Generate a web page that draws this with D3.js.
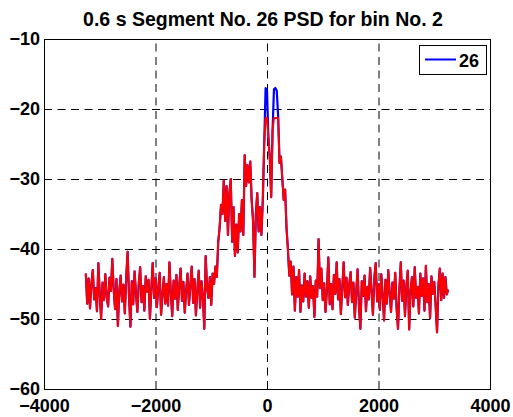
<!DOCTYPE html>
<html>
<head>
<meta charset="utf-8">
<script src="https://cdn.jsdelivr.net/npm/d3@7"></script>
<style>
  html, body { margin: 0; padding: 0; background: #ffffff; }
  svg { display: block; }
  text { font-family: "Liberation Sans", Arial, Helvetica, sans-serif; font-weight: bold; }
</style>
</head>
<body>
<svg id="chart" width="513" height="417"></svg>
<script>
// ---- data ----
const titleText = "0.6 s Segment No. 26 PSD for bin No. 2";
const legendLabel = "26";
const xTicks = [-4000, -2000, 0, 2000, 4000];
const yTicks = [-60, -50, -40, -30, -20, -10];
const xDomain = [-4000, 4000];
const yDomain = [-60, -10];
// frequency bins (Hz), 25 Hz spacing
const freqs = d3.range(-3250, 3251, 25);
// PSD values in dB (blue trace, series "26")
const psdBlue = [
  -43.5, -47.8, -44.2, -48.5, -45.0, -43.0, -47.2, -45.6, -48.9, -42.0,
  -46.5, -50.0, -44.8, -47.3, -43.6, -46.9, -48.2, -44.1, -46.0, -41.4,
  -45.8, -48.6, -44.3, -51.0, -46.2, -43.8, -47.5, -45.1, -49.2, -44.0,
  -40.4, -46.8, -51.1, -44.6, -47.9, -43.2, -46.4, -49.0, -44.9, -42.6,
  -47.6, -45.3, -48.8, -43.9, -46.1, -44.4, -50.0, -45.7, -42.0, -47.0,
  -44.2, -48.3, -45.5, -43.4, -49.4, -46.6, -44.0, -47.8, -45.0, -48.1,
  -41.9, -46.3, -49.6, -44.5, -47.1, -43.7, -48.7, -45.4, -42.8, -47.4,
  -44.7, -49.1, -46.0, -43.5, -48.0, -45.2, -42.5, -47.7, -44.3, -49.5,
  -45.9, -43.1, -48.4, -44.6, -46.8, -51.4, -41.0, -45.5, -47.0, -44.0,
  -48.0, -43.5, -45.0, -42.5, -44.0, -39.0, -37.0, -33.7, -35.0, -30.2,
  -36.0, -31.0, -38.0, -32.0, -30.0, -39.0, -34.0, -41.0, -36.5, -40.5,
  -35.0, -37.5, -33.0, -38.0, -26.6, -31.0, -28.0, -30.5, -27.5, -33.0,
  -36.0, -44.0, -35.0, -32.0, -37.5, -34.0, -38.0, -33.0, -25.0, -17.0,
  -17.3, -24.0, -27.0, -32.6, -23.0, -17.2, -17.0, -17.4, -21.0, -27.7,
  -26.8, -30.0, -33.0, -31.5, -37.0, -40.0, -43.8, -41.8, -46.5, -42.5,
  -48.8, -44.0, -46.8, -43.0, -49.0, -45.2, -47.5, -43.5, -46.8, -44.6,
  -48.4, -43.9, -47.0, -45.3, -49.7, -44.5, -46.8, -38.6, -45.6, -42.8,
  -47.3, -44.9, -49.0, -45.8, -41.2, -47.9, -45.0, -48.6, -43.7, -46.4,
  -41.9, -47.2, -44.3, -49.3, -45.6, -41.9, -46.9, -44.1, -48.0, -45.1,
  -43.3, -47.6, -44.8, -49.8, -46.2, -42.9, -48.3, -51.4, -44.6, -46.7,
  -43.8, -48.9, -45.4, -47.2, -42.7, -46.0, -49.4, -44.2, -42.0, -47.5,
  -45.0, -48.7, -43.6, -46.6, -50.2, -44.4, -47.8, -43.0, -46.3, -49.0,
  -44.8, -47.1, -43.4, -48.5, -51.4, -45.7, -41.9, -47.4, -44.5, -49.6,
  -45.3, -43.1, -51.5, -46.1, -44.0, -48.2, -42.6, -47.0, -45.4, -49.2,
  -43.5, -46.7, -44.2, -48.8, -42.4, -47.6, -45.0, -49.9, -43.9, -46.4,
  -44.7, -48.1, -51.9, -45.2, -42.8, -47.3, -43.5, -47.0, -44.0, -46.5, -45.8
];
// PSD values in dB (red trace, peaks limited)
const psdRed = [
  -43.5, -47.8, -44.2, -48.5, -45.0, -43.0, -47.2, -45.6, -48.9, -42.0,
  -46.5, -50.0, -44.8, -47.3, -43.6, -46.9, -48.2, -44.1, -46.0, -41.4,
  -45.8, -48.6, -44.3, -51.0, -46.2, -43.8, -47.5, -45.1, -49.2, -44.0,
  -40.4, -46.8, -51.1, -44.6, -47.9, -43.2, -46.4, -49.0, -44.9, -42.6,
  -47.6, -45.3, -48.8, -43.9, -46.1, -44.4, -50.0, -45.7, -42.0, -47.0,
  -44.2, -48.3, -45.5, -43.4, -49.4, -46.6, -44.0, -47.8, -45.0, -48.1,
  -41.9, -46.3, -49.6, -44.5, -47.1, -43.7, -48.7, -45.4, -42.8, -47.4,
  -44.7, -49.1, -46.0, -43.5, -48.0, -45.2, -42.5, -47.7, -44.3, -49.5,
  -45.9, -43.1, -48.4, -44.6, -46.8, -51.4, -41.0, -45.5, -47.0, -44.0,
  -48.0, -43.5, -45.0, -42.5, -44.0, -39.0, -37.0, -33.7, -35.0, -30.2,
  -36.0, -31.0, -38.0, -32.0, -30.0, -39.0, -34.0, -41.0, -36.5, -40.5,
  -35.0, -37.5, -33.0, -38.0, -26.6, -31.0, -28.0, -30.5, -27.5, -33.0,
  -36.0, -44.0, -35.0, -32.0, -37.5, -34.0, -38.0, -33.0, -25.0, -21.3,
  -21.3, -24.0, -27.0, -32.6, -23.0, -21.3, -21.3, -21.3, -21.3, -27.7,
  -26.8, -30.0, -33.0, -31.5, -37.0, -40.0, -43.8, -41.8, -46.5, -42.5,
  -48.8, -44.0, -46.8, -43.0, -49.0, -45.2, -47.5, -43.5, -46.8, -44.6,
  -48.4, -43.9, -47.0, -45.3, -49.7, -44.5, -46.8, -38.6, -45.6, -42.8,
  -47.3, -44.9, -49.0, -45.8, -41.2, -47.9, -45.0, -48.6, -43.7, -46.4,
  -41.9, -47.2, -44.3, -49.3, -45.6, -41.9, -46.9, -44.1, -48.0, -45.1,
  -43.3, -47.6, -44.8, -49.8, -46.2, -42.9, -48.3, -51.4, -44.6, -46.7,
  -43.8, -48.9, -45.4, -47.2, -42.7, -46.0, -49.4, -44.2, -42.0, -47.5,
  -45.0, -48.7, -43.6, -46.6, -50.2, -44.4, -47.8, -43.0, -46.3, -49.0,
  -44.8, -47.1, -43.4, -48.5, -51.4, -45.7, -41.9, -47.4, -44.5, -49.6,
  -45.3, -43.1, -51.5, -46.1, -44.0, -48.2, -42.6, -47.0, -45.4, -49.2,
  -43.5, -46.7, -44.2, -48.8, -42.4, -47.6, -45.0, -49.9, -43.9, -46.4,
  -44.7, -48.1, -51.9, -45.2, -42.8, -47.3, -43.5, -47.0, -44.0, -46.5, -45.8
];

// ---- layout ----
const W = 513, H = 417;
const m = { left: 44, right: 23, top: 39, bottom: 28 };
const pw = W - m.left - m.right, ph = H - m.top - m.bottom;

const svg = d3.select("#chart");
svg.append("rect").attr("width", W).attr("height", H).attr("fill", "#fff");

const x = d3.scaleLinear().domain(xDomain).range([m.left, m.left + pw]);
const y = d3.scaleLinear().domain(yDomain).range([m.top + ph, m.top]);

// gridlines
const grid = svg.append("g");
grid.append("g")
  .attr("transform", `translate(0,${m.top + ph})`)
  .call(d3.axisBottom(x).tickValues(xTicks).tickSize(-ph).tickFormat(""))
  .call(g => g.select(".domain").remove())
  .call(g => g.selectAll("line").attr("stroke", "#000").attr("stroke-width", 1).attr("stroke-dasharray", "8,5.5"));
grid.append("g")
  .attr("transform", `translate(${m.left},0)`)
  .call(d3.axisLeft(y).tickValues(yTicks).tickSize(-pw).tickFormat(""))
  .call(g => g.select(".domain").remove())
  .call(g => g.selectAll("line").attr("stroke", "#000").attr("stroke-width", 1).attr("stroke-dasharray", "8,5.5"));

// lines
const lineBlue = d3.line().x((d, i) => x(freqs[i])).y(d => y(d));
svg.append("path").datum(psdBlue)
  .attr("d", lineBlue).attr("fill", "none")
  .attr("stroke", "#0000ff").attr("stroke-width", 2.2).attr("stroke-linejoin", "round");
svg.append("path").datum(psdRed)
  .attr("d", lineBlue).attr("fill", "none")
  .attr("stroke", "#ff0000").attr("stroke-width", 2).attr("stroke-linejoin", "round");

// frame
svg.append("rect")
  .attr("x", m.left + 0.5).attr("y", m.top + 0.5)
  .attr("width", pw).attr("height", ph)
  .attr("fill", "none").attr("stroke", "#000").attr("stroke-width", 1);

// tick labels
const xl = svg.append("g")
  .attr("transform", `translate(0,${m.top + ph})`)
  .call(d3.axisBottom(x).tickValues(xTicks).tickSize(0).tickPadding(0).tickFormat(d3.format("d")))
  .call(g => g.select(".domain").remove());
xl.selectAll("text").attr("font-size", 18).attr("font-family", "'Liberation Sans', Arial, sans-serif")
  .attr("font-weight", "bold").attr("fill", "#000").attr("dy", null).attr("y", 23);

const yl = svg.append("g")
  .attr("transform", `translate(${m.left},0)`)
  .call(d3.axisLeft(y).tickValues(yTicks).tickSize(0).tickPadding(4).tickFormat(d3.format("d")))
  .call(g => g.select(".domain").remove());
yl.selectAll("text").attr("font-size", 18).attr("font-family", "'Liberation Sans', Arial, sans-serif")
  .attr("font-weight", "bold").attr("fill", "#000");

// title
svg.append("text")
  .attr("x", 263).attr("y", 26)
  .attr("text-anchor", "middle")
  .attr("font-size", 19.5)
  .attr("fill", "#000")
  .text(titleText);

// legend
const lg = svg.append("g");
lg.append("rect").attr("x", 419.5).attr("y", 45.5).attr("width", 67).attr("height", 29)
  .attr("fill", "#fff").attr("stroke", "#000").attr("stroke-width", 1);
lg.append("line").attr("x1", 425).attr("x2", 456).attr("y1", 59.5).attr("y2", 59.5)
  .attr("stroke", "#0000ff").attr("stroke-width", 2);
lg.append("text").attr("x", 459).attr("y", 66.5).attr("font-size", 18).attr("fill", "#000").text(legendLabel);
</script>
</body>
</html>
